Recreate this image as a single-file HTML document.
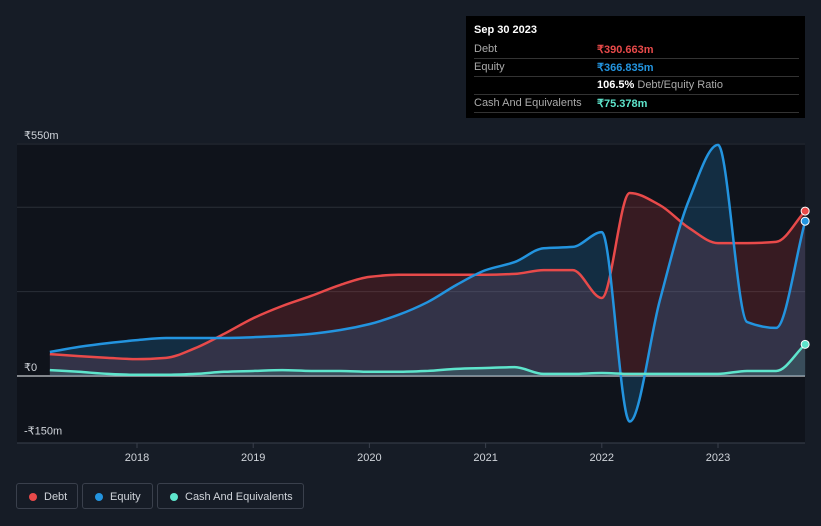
<!DOCTYPE html>
<html><head><meta charset="utf-8"><style>
body{margin:0;background:#161c26;width:821px;height:526px;overflow:hidden;font-family:"Liberation Sans",sans-serif}
svg{position:absolute;left:0;top:0}
.tt{position:absolute;left:466px;top:16px;width:339px;height:102px;background:#000;color:#fff;font-size:11px}
.row{position:absolute;left:8px;right:6px;height:18px;border-bottom:1px solid #333;}
.row span{position:absolute;top:3px}
.legend{position:absolute;top:483px;height:26px;border:1px solid #3a404c;border-radius:3px;color:#d0d4da;font-size:11px;line-height:26px;padding-left:27px;box-sizing:border-box}
.legend i{position:absolute;left:12px;top:9px;width:8px;height:8px;border-radius:50%}
</style></head><body>
<svg width="821" height="526">
<rect x="17" y="143" width="788" height="300" fill="#0f131b"/>
<g id="grid"></g><g id="areas"></g><g id="lines"></g><g id="axis"></g>
</svg>
<div class="tt">
<div style="position:absolute;left:8px;top:8px;font-weight:bold;font-size:11px">Sep 30 2023</div>
<div class="row" style="top:24px"><span style="color:#aaa">Debt</span><span style="left:123px;color:#e84a4a;font-weight:bold">₹390.663m</span></div>
<div class="row" style="top:42px"><span style="color:#aaa">Equity</span><span style="left:123px;color:#2394df;font-weight:bold">₹366.835m</span></div>
<div class="row" style="top:60px"><span style="left:123px;color:#fff"><b>106.5%</b> <span style="position:static;color:#aaa">Debt/Equity Ratio</span></span></div>
<div class="row" style="top:78px"><span style="color:#aaa">Cash And Equivalents</span><span style="left:123px;color:#5ee5cc;font-weight:bold">₹75.378m</span></div>
</div>
<div class="legend" style="left:16px;width:62px"><i style="background:#e84a4a"></i>Debt</div>
<div class="legend" style="left:82px;width:71px"><i style="background:#2394df"></i>Equity</div>
<div class="legend" style="left:157px;width:147px"><i style="background:#5ee5cc"></i>Cash And Equivalents</div>
<script>
const years=[2017.25,2017.5,2017.75,2018,2018.25,2018.5,2018.75,2019,2019.25,2019.5,2019.75,2020,2020.25,2020.5,2020.75,2021,2021.25,2021.5,2021.75,2022,2022.24,2022.5,2022.75,2023,2023.25,2023.5,2023.75];
const debt=[52,47,43,40,43,66,100,137,166,190,216,235,240,240,240,240,242,251,251,185,434,405,351,315,315,318,391];
const equity=[57,69,78,85,90,90,90,92,95,100,109,123,145,175,216,251,270,303,306,341,-108,180,417,548,128,114,367];
const cash=[14,10,5,3,3,5,10,12,14,12,12,10,10,12,17,19,21,5,5,7,5,5,5,5,12,12,75];
const yTicks=[550,0,-150];const yLabels=["₹550m","₹0","-₹150m"];
const grid=[550,400,200];
const xTicks=[2018,2019,2020,2021,2022,2023];
const X=t=>137+(t-2018)*116.2, Y=v=>376-v*0.4218;
const NS="http://www.w3.org/2000/svg";
function el(tag,a,p){const e=document.createElementNS(NS,tag);for(const k in a)e.setAttribute(k,a[k]);document.getElementById(p).appendChild(e);return e;}
function mono(xs,ys){const n=xs.length,d=[],m=[];for(let i=0;i<n-1;i++)d.push((ys[i+1]-ys[i])/(xs[i+1]-xs[i]));
m[0]=d[0];m[n-1]=d[n-2];for(let i=1;i<n-1;i++){m[i]=d[i-1]*d[i]<=0?0:(3*(d[i-1]+d[i]))/(2/1*(1)+(d[i]/d[i-1])+(d[i-1]/d[i]))*0+2*d[i-1]*d[i]/(d[i-1]+d[i]);}
let s=`M${xs[0]},${ys[0]}`;for(let i=0;i<n-1;i++){const h=(xs[i+1]-xs[i])/3;s+=`C${xs[i]+h},${ys[i]+m[i]*h} ${xs[i+1]-h},${ys[i+1]-m[i+1]*h} ${xs[i+1]},${ys[i+1]}`;}return s;}
grid.forEach(v=>{const g=el('line',{x1:17,x2:805,y1:Y(v),y2:Y(v),stroke:'#2a2f38'},'grid');});
const zl=el('line',{x1:17,x2:805,y1:Y(0),y2:Y(0),stroke:'#c8cbd0','stroke-width':1.2},'grid');
el('line',{x1:17,x2:805,y1:443,y2:443,stroke:'#3a404c'},'axis');
yTicks.forEach((v,i)=>{const t=el('text',{x:24,y:Y(v)-5,fill:'#d0d4da','font-size':11},'axis');t.textContent=yLabels[i];});
xTicks.forEach(v=>{el('line',{x1:X(v),x2:X(v),y1:443,y2:448,stroke:'#3a404c'},'axis');const t=el('text',{x:X(v),y:461,fill:'#d0d4da','font-size':11,'text-anchor':'middle'},'axis');t.textContent=v;});
const xs=years.map(X);
[[debt,'#e84a4a','rgba(200,60,60,0.22)','debt'],[equity,'#2394df','rgba(35,148,223,0.2)','equity'],[cash,'#5ee5cc','rgba(94,229,204,0.15)','cash']].forEach(([vals,c,f,n])=>{
const ys=vals.map(Y);const p=mono(xs,ys);
const a=el('path',{d:p+`L${xs[xs.length-1]},${Y(0)}L${xs[0]},${Y(0)}Z`,fill:f},'areas');
const l=el('path',{d:p,fill:'none',stroke:c,'stroke-width':2.5},'lines');
const dt=el('circle',{cx:xs[xs.length-1],cy:ys[ys.length-1],r:4,fill:c,stroke:'#fff','stroke-width':1},'lines');});
</script>
</body></html>
